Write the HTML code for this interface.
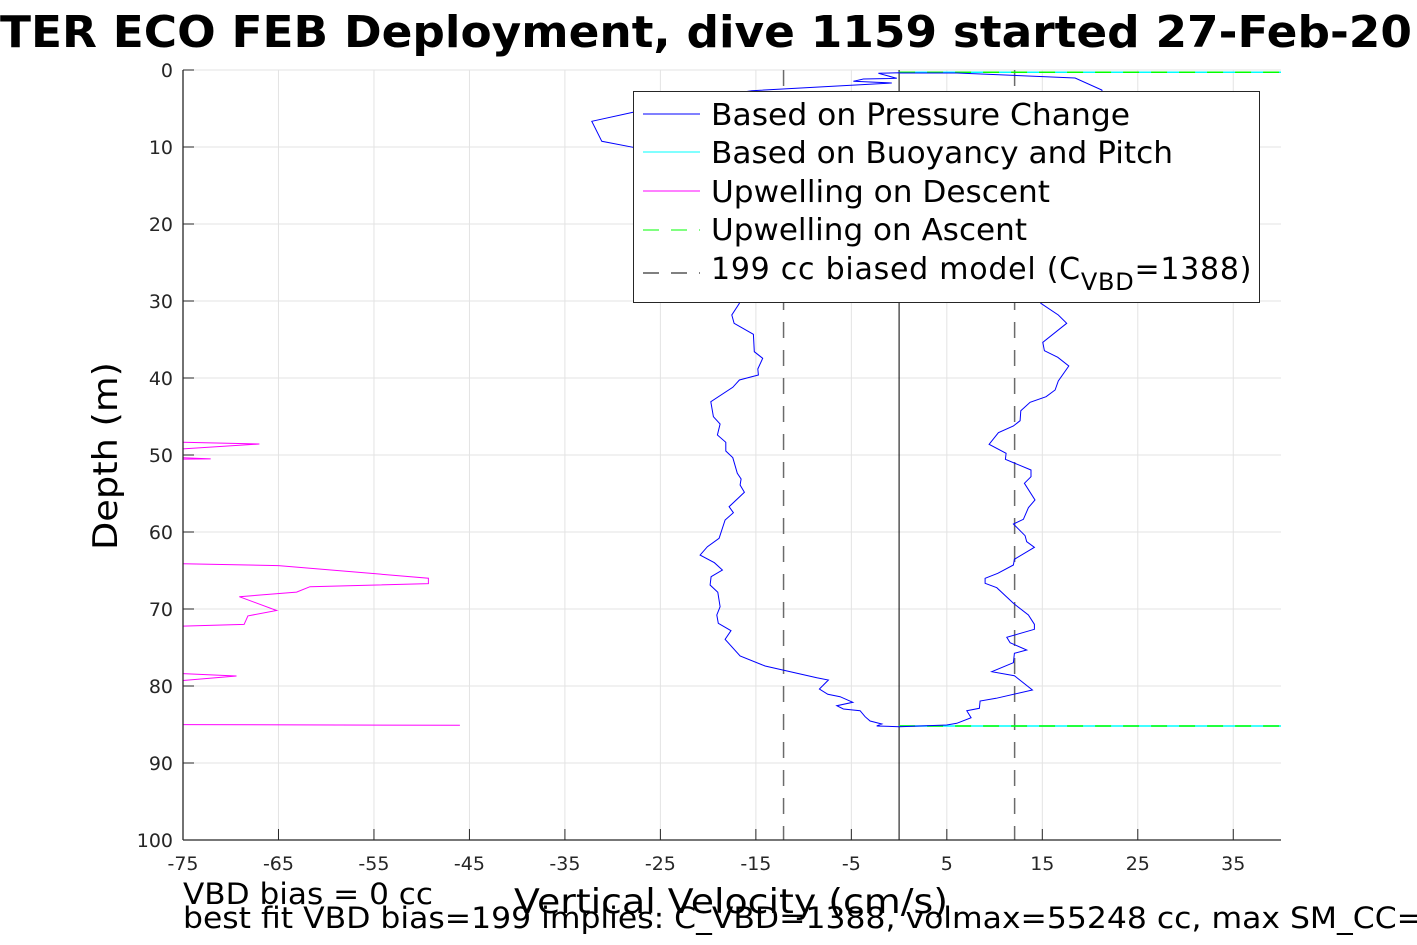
<!DOCTYPE html>
<html><head><meta charset="utf-8">
<style>
html,body{margin:0;padding:0;background:#fff;}
svg{display:block;font-family:"DejaVu Sans","Liberation Sans",sans-serif;}
</style></head>
<body>
<svg id="chart" width="1417" height="945" xmlns="http://www.w3.org/2000/svg">
<defs><clipPath id="plotclip"><rect x="183" y="70" width="1098" height="770"/></clipPath></defs>
<text x="0" y="47" font-size="44" font-weight="bold" textLength="1412" lengthAdjust="spacingAndGlyphs">TER ECO FEB Deployment, dive 1159 started 27-Feb-20</text>
<g id="grid"></g>
<g id="series" clip-path="url(#plotclip)"></g>
<g id="axes"></g>
<text transform="translate(117,456) rotate(-90)" font-size="34" text-anchor="middle" textLength="188" lengthAdjust="spacingAndGlyphs">Depth (m)</text>
<text x="731" y="913" font-size="34" text-anchor="middle" textLength="434" lengthAdjust="spacingAndGlyphs">Vertical Velocity (cm/s)</text>
<text x="183" y="904" font-size="29" textLength="250" lengthAdjust="spacingAndGlyphs">VBD bias = 0 cc</text>
<text x="183" y="928" font-size="29" textLength="1240" lengthAdjust="spacingAndGlyphs">best fit VBD bias=199 implies: C_VBD=1388, volmax=55248 cc, max SM_CC=</text>
<g id="legend">
<rect x="633.5" y="91.5" width="626" height="211" fill="#fff" stroke="#262626" stroke-width="1"/>
<line x1="643" y1="114" x2="700" y2="114" stroke="#0000ff" stroke-width="1"/>
<text x="711" y="125" font-size="30" textLength="419" lengthAdjust="spacingAndGlyphs">Based on Pressure Change</text>
<line x1="643" y1="152" x2="700" y2="152" stroke="#00ffff" stroke-width="1"/>
<text x="711" y="163" font-size="30" textLength="462" lengthAdjust="spacingAndGlyphs">Based on Buoyancy and Pitch</text>
<line x1="643" y1="191" x2="700" y2="191" stroke="#ff00ff" stroke-width="1"/>
<text x="711" y="202" font-size="30" textLength="339" lengthAdjust="spacingAndGlyphs">Upwelling on Descent</text>
<line x1="643" y1="230" x2="700" y2="230" stroke="#00ff00" stroke-width="1" stroke-dasharray="16,12"/>
<text x="711" y="240" font-size="30" textLength="316" lengthAdjust="spacingAndGlyphs">Upwelling on Ascent</text>
<line x1="643" y1="273" x2="700" y2="273" stroke="#000" stroke-width="1" stroke-dasharray="16,12"/>
<text x="711" y="279" font-size="30" letter-spacing="0.75">199 cc biased model (C<tspan font-size="24" dy="11">VBD</tspan><tspan dy="-11">=1388)</tspan></text>
</g>
</svg>
<script>
const xTicks = [-75,-65,-55,-45,-35,-25,-15,-5,5,15,25,35];
const yTicks = [0,10,20,30,40,50,60,70,80,90,100];
const pressDepth = [0.35,0.43,1.08,1.17,1.47,1.69,2.69,3.9,5.49,6.66,9.26,10.04,14.3,20.8,27.3,30.3,31.82,32.9,34.32,36.58,37.44,38.83,39.61,40.26,41.21,43.08,45.03,45.97,47.4,48.35,49.48,50.35,52.38,53.12,53.9,54.84,56.71,57.49,58.44,60.82,61.91,63.0,63.99,64.94,65.81,66.88,67.83,69.7,70.78,71.86,72.82,73.94,76.1,77.4,78.92,79.22,80.39,81.08,81.39,82.12,82.56,82.99,83.21,83.99,84.55,84.94,85.19,85.29,
85.06,84.84,84.12,83.21,82.9,81.95,81.6,80.52,78.66,78.14,76.97,75.75,75.32,74.38,73.68,72.64,71.99,70.78,69.26,67.23,66.66,66.01,65.36,64.29,63.55,61.99,61.26,60.48,58.96,58.35,56.84,55.84,53.68,52.82,51.95,50.56,49.78,48.61,47.1,46.23,45.55,44.25,43.16,42.43,41.56,40.39,38.44,37.31,36.45,35.36,32.9,31.82,30.3,23.4,14.3,6.5,2.6,1.04,0.39,0.39];
const pressVel = [0.1,-2.17,-0.24,-3.74,-4.79,-0.76,-15.43,-21.9,-27.86,-32.18,-31.14,-27.86,-22.9,-20.8,-17.7,-16.73,-17.52,-17.28,-15.26,-15.16,-14.28,-14.8,-14.74,-16.73,-17.42,-19.72,-19.45,-18.75,-19.03,-18.15,-18.15,-17.42,-16.94,-16.55,-16.65,-16.2,-17.8,-17.35,-18.22,-18.85,-20.08,-20.84,-19.34,-18.51,-19.69,-19.79,-18.99,-18.75,-19.09,-18.93,-17.6,-18.22,-16.65,-14.03,-8.62,-7.4,-8.35,-7.47,-6.18,-4.85,-6.52,-5.83,-4.08,-3.56,-3.04,-1.81,-2.34,0.03,
5.0,6.04,7.54,7.09,8.41,8.48,10.16,13.96,12.08,9.71,11.97,12.08,13.37,11.63,11.28,14.17,14.17,13.54,11.97,10.23,9.01,9.01,10.34,11.97,12.08,14.17,13.37,13.2,11.97,13.02,13.54,14.24,13.12,13.82,13.82,11.13,11.21,9.43,10.4,11.97,12.67,12.75,13.72,15.4,16.34,16.68,17.77,16.62,15.22,15.05,17.56,16.68,14.84,16.86,20.0,22.1,21.23,18.43,6.04,0.1];
const buoyDepth = [0.3,0.3,null,85.2,85.2];
const buoyVel = [0,45,null,0,45];
const ascDepth = [0.3,0.3,null,85.2,85.2];
const ascVel = [0,45,null,0,45];
const descDepth = [48.2,48.57,49.6,null,50.1,50.5,50.6,null,64.0,64.36,66.0,66.7,67.1,67.8,68.4,70.2,70.9,72.0,72.4,null,78.1,78.7,79.8,null,85.0,85.1];
const descVel = [-80,-67.0,-80,null,-80,-72.1,-80,null,-80,-65.0,-49.3,-49.3,-61.7,-63.1,-69.1,-65.2,-68.2,-68.6,-80,null,-80,-69.4,-80,null,-80,-46.0];
const modelVel = [-12.1,12.1];
const zeroVel = [0];

const X0=183,X1=1281,Y0=70,Y1=840,XMIN=-75,XMAX=40,YMIN=0,YMAX=100;
const xs=v=>X0+(v-XMIN)/(XMAX-XMIN)*(X1-X0);
const ys=d=>Y0+(d-YMIN)/(YMAX-YMIN)*(Y1-Y0);
const NS="http://www.w3.org/2000/svg";
function mk(tag,attrs,parent){const e=document.createElementNS(NS,tag);for(const k in attrs)e.setAttribute(k,attrs[k]);parent.appendChild(e);return e;}
const grid=document.getElementById('grid'),axes=document.getElementById('axes'),series=document.getElementById('series');
xTicks.forEach(t=>{
  const g=mk('line',{x1:xs(t),x2:xs(t),y1:Y0,y2:Y1,stroke:'#e3e3e3','stroke-width':1},grid);
  
  
  const tk=mk('line',{x1:xs(t),x2:xs(t),y1:Y1,y2:Y1-11,stroke:'#262626','stroke-width':1},axes);
  
  
  const lb=mk('text',{x:xs(t),y:Y1+30,'font-size':19,'text-anchor':'middle',fill:'#262626'},axes);
  lb.textContent=t;
  
  
});
yTicks.forEach(t=>{
  const g=mk('line',{x1:X0,x2:X1,y1:ys(t),y2:ys(t),stroke:'#e3e3e3','stroke-width':1},grid);
  
  
  const tk=mk('line',{x1:X0,x2:X0+11,y1:ys(t),y2:ys(t),stroke:'#262626','stroke-width':1},axes);
  
  
  const lb=mk('text',{x:X0-10,y:ys(t)+7,'font-size':19,'text-anchor':'end',fill:'#262626'},axes);
  lb.textContent=t;
  
  
});
const ax1=mk('line',{x1:X0,x2:X0,y1:Y0,y2:Y1,stroke:'#262626','stroke-width':1.3},axes);


const ax2=mk('line',{x1:X0,x2:X1,y1:Y1,y2:Y1,stroke:'#262626','stroke-width':1.3},axes);



function pathFrom(vels,deps){let d='',pen=false;for(let i=0;i<vels.length;i++){if(vels[i]===null){pen=false;continue;}d+=(pen?'L':'M')+xs(vels[i]).toFixed(1)+','+ys(deps[i]).toFixed(1);pen=true;}return d;}
zeroVel.forEach(v=>{
  const l=mk('line',{x1:xs(v),x2:xs(v),y1:Y0,y2:Y1,stroke:'#000','stroke-width':1},series);
  
  
});
modelVel.forEach(v=>{
  const l=mk('line',{x1:xs(v),x2:xs(v),y1:Y0,y2:Y1,stroke:'#6b6b6b','stroke-width':1.5,'stroke-dasharray':'16,12'},series);
  
  
});
const p1=mk('path',{d:pathFrom(descVel,descDepth),fill:'none',stroke:'#ff00ff','stroke-width':1},series);


const p2=mk('path',{d:pathFrom(buoyVel,buoyDepth),fill:'none',stroke:'#00ffff','stroke-width':1.5},series);


const p3=mk('path',{d:pathFrom(ascVel,ascDepth),fill:'none',stroke:'#00ff00','stroke-width':1.5,'stroke-dasharray':'16,12'},series);


const p4=mk('path',{d:pathFrom(pressVel,pressDepth),fill:'none',stroke:'#0000ff','stroke-width':1},series);


document.getElementById('chart').appendChild(document.getElementById('legend'));
</script>
</body></html>
